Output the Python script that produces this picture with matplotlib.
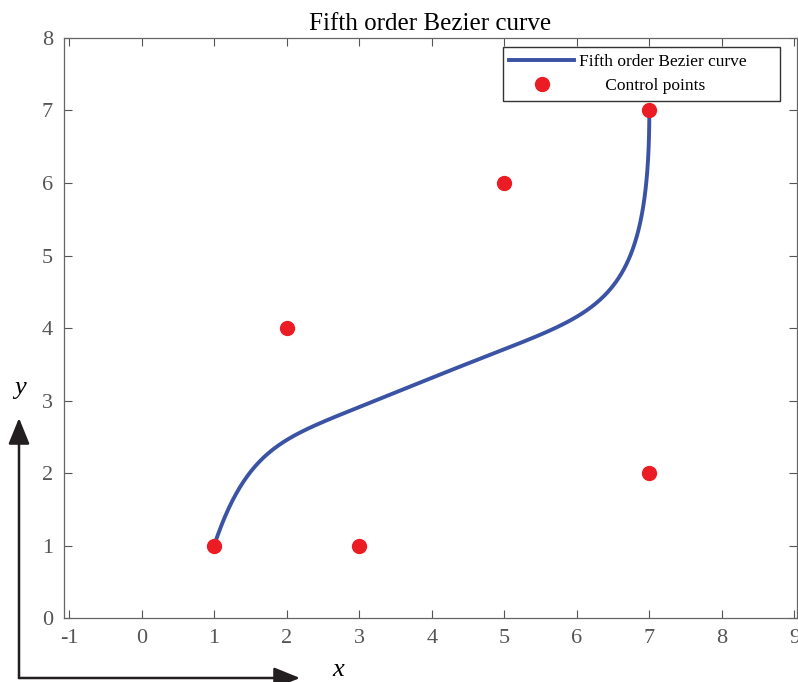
import numpy as np
import matplotlib
matplotlib.use("Agg")
import matplotlib.pyplot as plt
from matplotlib.patches import FancyArrowPatch
from math import comb

plt.rcParams["font.family"] = ["Liberation Serif", "DejaVu Serif"]
plt.rcParams["axes.unicode_minus"] = False

# Control polygon of the fifth order curve (6 points)
ctrl_x = [1, 2, 3, 5, 7, 7]
ctrl_y = [1, 4, 1, 6, 2, 7]

x_ticks = [-1, 0, 1, 2, 3, 4, 5, 6, 7, 8, 9]
y_ticks = [0, 1, 2, 3, 4, 5, 6, 7, 8]


def bezier(px, py, n=400):
    t = np.linspace(0, 1, n)
    deg = len(px) - 1
    bx = np.zeros_like(t)
    by = np.zeros_like(t)
    for k in range(deg + 1):
        b = comb(deg, k) * t**k * (1 - t) ** (deg - k)
        bx += b * px[k]
        by += b * py[k]
    return bx, by


cx, cy = bezier(ctrl_x, ctrl_y)

fig = plt.figure(figsize=(7.98, 6.82), dpi=100)
ax = fig.add_axes([0.0802, 0.0938, 0.918, 0.8505])

# padded labels keep the second entry centred under the first
ax.plot(cx, cy, color="#3a53a4", lw=2.8, label="Fifth order Bezier curve      ", zorder=3)
ax.plot(ctrl_x, ctrl_y, "o", color="#ec1c24", ms=10, ls="none",
        label="      Control points", zorder=4)

ax.set_xlim(-1.07, 9.03)
ax.set_ylim(0, 8)
ax.set_xticks(x_ticks)
ax.set_yticks(y_ticks)
ax.tick_params(direction="in", top=True, right=True, length=6, width=0.8,
               color="#555555", labelcolor="#555555", labelsize=16, pad=8)
for s in ax.spines.values():
    s.set_color("#666666")
    s.set_linewidth(0.9)

ax.set_title("Fifth order Bezier curve", fontsize=18, pad=6)

leg = ax.legend(loc="upper right", bbox_to_anchor=(0.977, 0.9845), borderaxespad=0,
                fontsize=12.5, fancybox=False, framealpha=1, edgecolor="#333333",
                handlelength=3.7, handletextpad=0.3, borderpad=0.4,
                labelspacing=0.45)
leg.get_frame().set_linewidth(1.0)

# Coordinate frame sketch in the lower left corner
arrow_kw = dict(arrowstyle="-|>,head_length=1.6,head_width=0.65",
                mutation_scale=10, color="#231f20", lw=1.8,
                shrinkA=0, shrinkB=0, transform=fig.transFigure)
origin = (19 / 798, 1 - 678 / 682)
fig.add_artist(FancyArrowPatch(origin, (19 / 798, 1 - 418 / 682), **arrow_kw))
fig.add_artist(FancyArrowPatch(origin, (300 / 798, 1 - 678 / 682), **arrow_kw))
fig.text(20 / 798, 1 - 388 / 682, "y", fontsize=19, style="italic",
         ha="center", va="center")
fig.text(338 / 798, 1 - 670 / 682, "x", fontsize=19, style="italic",
         ha="center", va="center")

fig.savefig("out.png", dpi=100)
